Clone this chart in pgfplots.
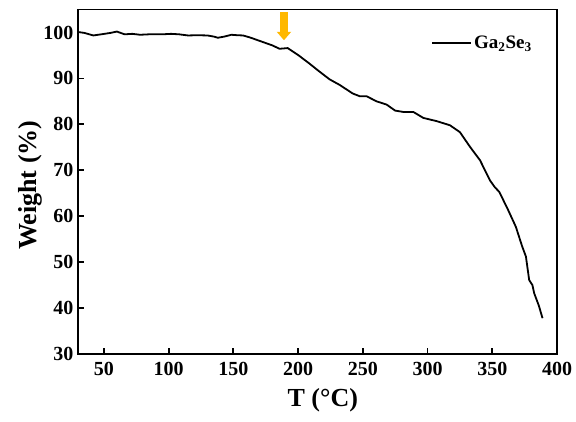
\documentclass[border=0pt]{standalone}
\usepackage{fontspec}
\setmainfont{Liberation Serif}
\usepackage{pgfplots}
\pgfplotsset{compat=1.18}
\usetikzlibrary{arrows.meta}
\definecolor{arrowgold}{RGB}{255,184,0}

\begin{document}
\begin{tikzpicture}[x=1bp,y=1bp]
\useasboundingbox (0,0) rectangle (576,421);
\begin{axis}[
    at={(78bp,67bp)}, anchor=south west,
    width=479bp, height=344.5bp, scale only axis,
    xmin=30, xmax=400, ymin=30, ymax=105,
    xtick={50,100,...,400}, ytick={30,40,...,100},
    tick pos=left, tick align=inside, major tick length=6bp,
    axis line style={line width=1.9bp},
    every tick/.style={black, line width=1.8bp},
    /pgf/number format/assume math mode=true,
    ticklabel style={font=\fontsize{20bp}{22bp}\selectfont\bfseries},
    xticklabel style={yshift=-5bp},
    yticklabel style={xshift=-1bp},
    xlabel={T (°C)}, ylabel={Weight (\%)},
    label style={font=\fontsize{26bp}{28bp}\selectfont\bfseries},
    xlabel style={at={(axis description cs:0.511,-0.1335)}, anchor=center},
    ylabel style={at={(axis description cs:-0.100,0.49)}, anchor=center},
    legend style={draw=none, fill=none, at={(axis description cs:0.958,0.902)},
        anchor=east, font=\fontsize{19bp}{21bp}\selectfont\bfseries},
    legend image code/.code={\draw[#1, line width=1.8bp] (0bp,0bp) -- (39bp,0bp);},
]
  % TGA curve
  \addplot[black, line width=1.8bp] coordinates {
    (30,100.1) (35,99.9) (41.8,99.35) (48,99.6) (55,99.9) (60,100.2)
    (66,99.6) (72,99.7) (78,99.5) (85,99.6) (95,99.6) (102,99.7)
    (108,99.6) (115,99.35) (122,99.4) (130,99.35) (135,99.1) (138,98.85)
    (143,99.1) (148.5,99.5) (153,99.4) (157.5,99.35) (163,98.9) (173,97.9)
    (180,97.2) (185.7,96.45) (192,96.6) (200,95.1) (208.9,93.2) (216,91.6)
    (224.3,89.8) (232,88.6) (242.3,86.7) (247.8,86.1) (253,86.1) (260.7,85.0)
    (268.4,84.3) (274.9,83.0) (281.3,82.7) (289,82.7) (296.7,81.4) (307,80.7)
    (317.3,79.8) (325,78.3) (332.8,75.1) (340.5,72.2) (348.2,67.8) (352,66.3)
    (355.4,65.3) (362,61.5) (368.2,57.7) (373,53.5) (376,51.2) (378.5,46.1)
    (381,45.0) (382.4,43.2) (386,40.5) (388.8,37.8)
  };
  \addlegendentry{Ga\textsubscript{2}Se\textsubscript{3}}
  % onset arrow
  \draw[arrowgold, line width=8bp, -{Triangle[width=14bp,length=8.5bp]}]
    (axis cs:189.1,104.4) -- (axis cs:189.1,98.3);
\end{axis}
\end{tikzpicture}
\end{document}
